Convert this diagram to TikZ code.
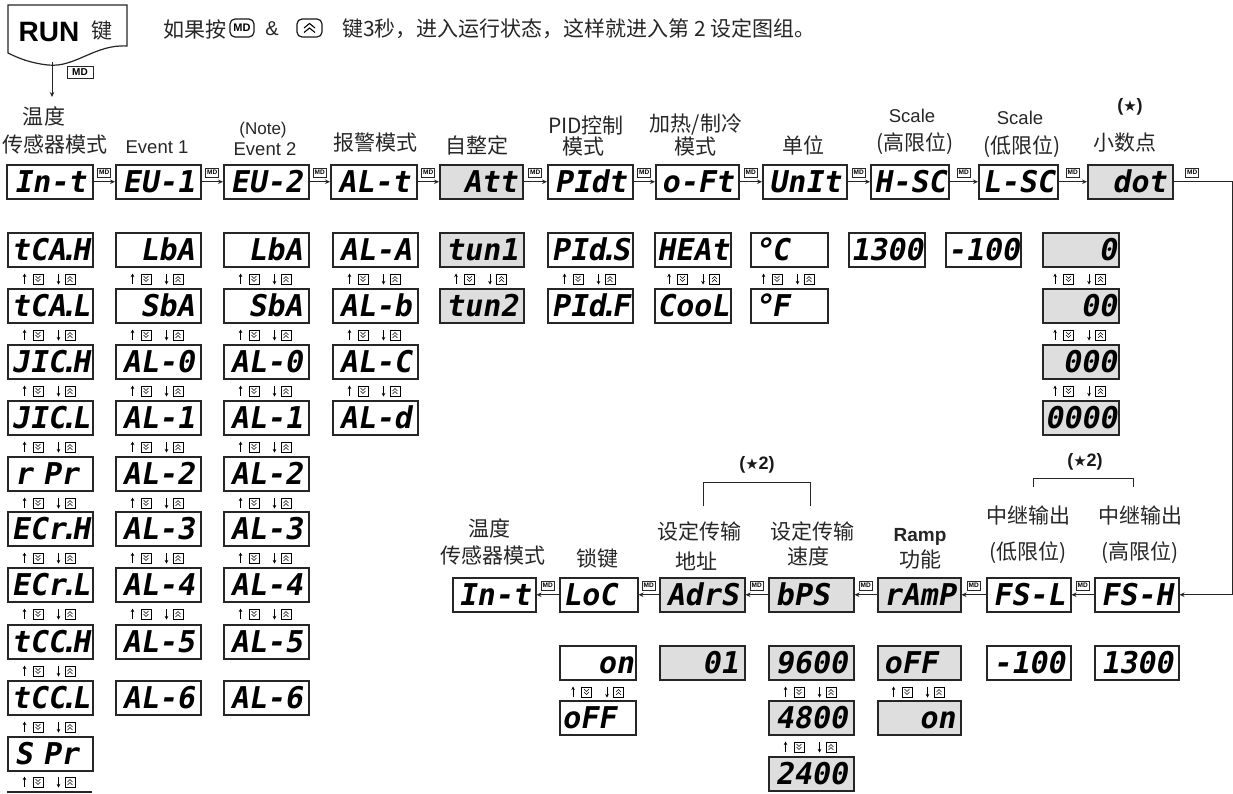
\documentclass[tikz,border=0pt]{standalone}
\usepackage{fontspec}
\setmainfont{Liberation Sans}
\newfontfamily\cjk{Noto Sans CJK SC}
\newfontfamily\djv{DejaVu Sans}
\newfontfamily\dispf{DejaVu Sans Mono}[FakeSlant=0.18]
\usetikzlibrary{arrows.meta}
\newcommand\fsz[1]{\fontsize{#1}{#1}\selectfont}
\newcommand\dd{\kern-0.2em.\kern-0.2em}
\newcommand\dg{\makebox[18pt][l]{\raisebox{-1pt}{\fsz{32}°}}}
\tikzset{
  disp/.style={draw=black!85, line width=1.5pt, anchor=north west, minimum width=#1,
    minimum height=34pt, inner sep=0pt, text width=72pt, text height=22pt, text depth=0pt,
    align=left, font={\dispf\bfseries\fsz{30}\exhyphenpenalty=10000 \hyphenpenalty=10000 }},
  disp/.default=84pt,
  wide/.style={text width=78pt},
  gr/.style={fill=black!13},
  ra/.style={align=right},
  lab/.style={font=\cjk\fsz{21}, text=black!85, inner sep=0pt},
  en/.style={font=\fsz{18.5}, text=black!85, inner sep=0pt},
  star/.style={font=\bfseries\fsz{18}, text=black!90, inner sep=0pt},
  mdbox/.style={draw=black!85, line width=0.7pt, inner sep=0.6pt, font=\bfseries\fsz{6.5},
    minimum width=13pt, minimum height=9.5pt},
  conn/.style={line width=0.8pt, draw=black!85, -{Stealth[length=5pt,width=4.5pt]}},
  btn/.style={draw=black!90, line width=1.2pt, rounded corners=5pt, minimum width=24pt,
    minimum height=18pt, inner sep=0pt, font=\bfseries\fsz{11}},
  pics/updn/.style={code={
    \draw[line width=0.9pt, -{Stealth[length=3.5pt,width=3.5pt]}] (-25,5) -- (-25,-5.5);
    \draw[line width=0.6pt] (-16.5,-5) rectangle (-6.5,5);
    \draw[line width=0.6pt] (-14,-3) -- (-11.5,-0.5) -- (-9,-3) (-14,0) -- (-11.5,2.5) -- (-9,0);
    \draw[line width=0.9pt, -{Stealth[length=3.5pt,width=3.5pt]}] (9,-5) -- (9,5.5);
    \draw[line width=0.6pt] (15.5,-5) rectangle (25.5,5);
    \draw[line width=0.6pt] (18,0) -- (20.5,-2.5) -- (23,0) (18,3) -- (20.5,0.5) -- (23,3);
  }}
}
\begin{document}
\begin{tikzpicture}[x=1pt,y=-1pt]
\useasboundingbox (0,0) rectangle (1233,793);

% RUN key
\draw[line width=1.2pt, black!85] (8,5) -- (127,5) -- (127,46)
  .. controls (95,44) and (75,68) .. (48,65) .. controls (30,63) and (18,58) .. (8,53) -- cycle;
\node[inner sep=0pt, font=\bfseries\fsz{28}] (runt) at (49,32) {RUN};
\node[lab] (runk) at (102,31) {键};
\coordinate (runout) at (52,62);
\coordinate (runend) at (52,97);
\draw[conn] (runout) -- (runend);
\node[mdbox, minimum width=26pt, minimum height=12pt, font=\bfseries\fsz{10}] (runmd) at (80,72.5) {MD};

% top sentence
\node[lab, anchor=west] (s1) at (163,29) {如果按};
\node[btn] (bmd) at (242,28) {MD};
\node[en, font=\fsz{20}] (amp) at (272,29) {\&};
\node[btn, minimum width=25pt] (bup) at (309.5,28) {};
\draw[line width=1.1pt] (304,28) -- (309.5,23.5) -- (315,28) (304,32.5) -- (309.5,28) -- (315,32.5);
\node[lab, anchor=west] (s2) at (342,29) {键3秒，进入运行状态，这样就进入第 2 设定图组。};

% top labels
\node[lab] (l1a) at (44,116) {温度};
\node[lab] (l1b) at (55,145) {传感器模式};
\node[en] (l2) at (157,147) {Event 1};
\node[en, font=\fsz{17}] (l3a) at (263,130) {(Note)};
\node[en] (l3b) at (265,149) {Event 2};
\node[lab] (l4) at (375,143) {报警模式};
\node[lab] (l5) at (477,145) {自整定};
\node[lab] (l6a) at (586,125) {PID控制};
\node[lab] (l6b) at (583,147) {模式};
\node[lab] (l7a) at (696,125) {加热/制冷};
\node[lab] (l7b) at (695,147) {模式};
\node[lab] (l8) at (803,145) {单位};
\node[en] (l9a) at (912,116) {Scale};
\node[lab] (l9b) at (915,144) {(高限位)};
\node[en] (l10a) at (1020,118) {Scale};
\node[lab] (l10b) at (1022,147) {(低限位)};
\node[star] (l11a) at (1130,107) {({\djv\mdseries\fsz{15}★})};
\node[lab] (l11b) at (1125,143) {小数点};

% top row
\node[disp=86pt] (int) at (6,164) {In-t};
\node[disp=85pt] (ev1) at (115,164) {EU-1};
\node[disp=85pt] (ev2) at (223,164) {EU-2};
\node[disp=86pt] (alt) at (330,164) {AL-t};
\node[disp=83pt, gr, ra] (att) at (439,164) {Att};
\node[disp=85pt] (pid) at (547,164) {PIdt};
\node[disp=83pt] (oft) at (655,164) {o-Ft};
\node[disp=84pt] (unit) at (762,164) {UnIt};
\node[disp=78pt] (hsc) at (870,164) {H-SC};
\node[disp=79pt] (lsc) at (978,164) {L-SC};
\node[disp=85pt, gr, ra] (dot) at (1087,164) {dot};
\foreach \a/\b in {int/ev1, ev1/ev2, ev2/alt, alt/att, att/pid, pid/oft, oft/unit, unit/hsc, hsc/lsc, lsc/dot}
  \draw[conn] (\a) -- (\b) node[midway, above=4pt, mdbox] {MD};

% column 1
\node[disp=85pt, wide] (c1a) at (7,232) {tCA\dd H};
\node[disp=85pt, wide] (c1b) at (7,288) {tCA\dd L};
\node[disp=85pt, wide] (c1c) at (7,344) {JIC\dd H};
\node[disp=85pt, wide] (c1d) at (7,400) {JIC\dd L};
\node[disp=85pt] (c1e) at (7,456) {r Pr};
\node[disp=85pt, wide] (c1f) at (7,511) {ECr\dd H};
\node[disp=85pt, wide] (c1g) at (7,567) {ECr\dd L};
\node[disp=85pt, wide] (c1h) at (7,624) {tCC\dd H};
\node[disp=85pt, wide] (c1i) at (7,680) {tCC\dd L};
\node[disp=85pt] (c1j) at (7,736) {S Pr};
\foreach \y in {279,335,391,447,503,558,614,671,727,782} \pic at (49.5,\y) {updn};
\draw[line width=1.5pt, black!85] (7,792) -- (92,792);

% columns 2 and 3
\foreach \x/\n in {115/c2, 223/c3}{
  \node[disp=85pt, ra] (\n a) at (\x,232) {LbA};
  \node[disp=85pt, ra] (\n b) at (\x,288) {SbA};
  \node[disp=85pt] (\n c) at (\x,344) {AL-0};
  \node[disp=85pt] (\n d) at (\x,400) {AL-1};
  \node[disp=85pt] (\n e) at (\x,456) {AL-2};
  \node[disp=85pt] (\n f) at (\x,511) {AL-3};
  \node[disp=85pt] (\n g) at (\x,567) {AL-4};
  \node[disp=85pt] (\n h) at (\x,624) {AL-5};
  \node[disp=85pt] (\n i) at (\x,680) {AL-6};
  \foreach \y in {279,335,391,447,503,558,614} \pic at (\x+42.5,\y) {updn};
}

% column 4
\node[disp=85pt] (c4a) at (332,232) {AL-A};
\node[disp=85pt] (c4b) at (332,288) {AL-b};
\node[disp=85pt] (c4c) at (332,344) {AL-C};
\node[disp=85pt] (c4d) at (332,400) {AL-d};
\foreach \y in {279,335,391} \pic at (374.5,\y) {updn};

% column 5
\node[disp=84pt, gr] (c5a) at (439,232) {tun1};
\node[disp=84pt, gr] (c5b) at (439,288) {tun2};
\pic at (481,279) {updn};

% column 6
\node[disp=85pt, wide] (c6a) at (547,232) {PId\dd S};
\node[disp=85pt, wide] (c6b) at (547,288) {PId\dd F};
\pic at (589.5,279) {updn};

% column 7
\node[disp=76pt] (c7a) at (654,232) {HEAt};
\node[disp=76pt] (c7b) at (654,288) {CooL};
\pic at (694,279) {updn};

% column 8
\node[disp=77pt] (c8a) at (750,232) {\dg C};
\node[disp=77pt] (c8b) at (750,288) {\dg F};
\pic at (788.5,279) {updn};

% columns 9, 10
\node[disp=76pt] (c9a) at (848,232) {1300};
\node[disp=75pt] (c10a) at (945,232) {-100};

% column 11
\node[disp=76pt, gr, ra] (c11a) at (1042,232) {0};
\node[disp=76pt, gr, ra] (c11b) at (1042,288) {00};
\node[disp=76pt, gr, ra] (c11c) at (1042,344) {000};
\node[disp=76pt, gr, ra] (c11d) at (1042,400) {0000};
\foreach \y in {279,335,391} \pic at (1080,\y) {updn};

% bottom labels
\node[lab] (b1a) at (489,528) {温度};
\node[lab] (b1b) at (493,556) {传感器模式};
\node[lab] (b2) at (597,558) {锁键};
\node[lab] (b3a) at (699,531) {设定传输};
\node[lab] (b3b) at (696,561) {地址};
\node[lab] (b4a) at (812,531) {设定传输};
\node[lab] (b4b) at (808,556) {速度};
\node[star] (st1) at (757,465) {({\djv\mdseries\fsz{15}★}2)};
\draw[line width=0.9pt, black!85] (703,506) -- (703,482) -- (810,482) -- (810,506);
\node[en, font=\bfseries\fsz{19}] (b5a) at (920,537) {Ramp};
\node[lab] (b5b) at (920,559) {功能};
\node[lab] (b6a) at (1028,515) {中继输出};
\node[lab] (b6b) at (1028,553) {(低限位)};
\node[lab] (b7a) at (1140,515) {中继输出};
\node[lab] (b7b) at (1140,553) {(高限位)};
\node[star] (st2) at (1085,462) {({\djv\mdseries\fsz{15}★}2)};
\draw[line width=0.9pt, black!85] (1033,487) -- (1033,478) -- (1133,478) -- (1133,487);

% bottom row
\node[disp=83pt] (intb) at (452,577) {In-t};
\node[disp=78pt] (loc) at (559,577) {LoC};
\node[disp=85pt, gr] (adrs) at (659,577) {AdrS};
\node[disp=85pt, gr] (bps) at (768,577) {bPS};
\node[disp=83pt, gr] (ramp) at (877,577) {rAmP};
\node[disp=84pt] (fsl) at (986,577) {FS-L};
\node[disp=84pt] (fsh) at (1094,577) {FS-H};
\foreach \a/\b in {fsh/fsl, fsl/ramp, ramp/bps, bps/adrs, adrs/loc, loc/intb}
  \draw[conn] (\a) -- (\b) node[midway, above=4pt, mdbox] {MD};

% loop from dot to FS-H
\draw[conn] (dot.east) -- ++(58.5,0) node[pos=0.32, above=4pt, mdbox] {MD} |- (fsh.east);

% bottom values
\node[disp=76pt, ra] (v1a) at (559,645) {on};
\node[disp=76pt] (v1b) at (559,700) {oFF};
\pic at (598,692) {updn};
\node[disp=85pt, gr, ra] (v2a) at (659,645) {01};
\node[disp=85pt, gr] (v3a) at (768,645) {9600};
\node[disp=85pt, gr] (v3b) at (768,700) {4800};
\node[disp=85pt, gr] (v3c) at (768,756) {2400};
\pic at (810.5,692) {updn};
\pic at (810.5,747) {updn};
\node[disp=83pt, gr] (v4a) at (877,645) {oFF};
\node[disp=83pt, gr, ra] (v4b) at (877,700) {on};
\pic at (918.5,692) {updn};
\node[disp=84pt] (v5a) at (986,645) {-100};
\node[disp=84pt] (v6a) at (1094,645) {1300};
\end{tikzpicture}
\end{document}
